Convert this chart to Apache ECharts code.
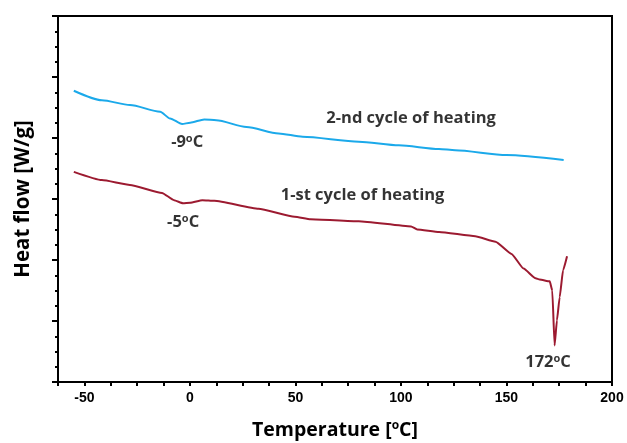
<!DOCTYPE html>
<html>
<head>
<meta charset="utf-8">
<script src="https://cdn.jsdelivr.net/npm/echarts@6/dist/echarts.min.js"></script>
<style>
html,body{margin:0;padding:0;background:#fff;}
#chart{width:627px;height:443px;}
</style>
</head>
<body>
<div id="chart"></div>
<script>
// 2-nd cycle of heating (blue)
var tempSecond = [-55, -41.7, -28.4, -14.1, -9.4, -3.7, 0.1, 6.8, 12.5, 26.8, 42, 53.4, 80, 99, 118, 125.7, 150, 177.1];
var heatSecond = [4.775, 4.62, 4.54, 4.43, 4.32, 4.23, 4.25, 4.305, 4.29, 4.18, 4.075, 4.02, 3.94, 3.88, 3.82, 3.80, 3.72, 3.64];
// 1-st cycle of heating (dark red)
var tempFirst = [-55, -41.7, -28.4, -13.2, -7.5, -3.3, 0.1, 5.9, 11.6, 32.5, 49.6, 57.2, 80, 104.8, 107.7, 118.1, 135.2, 144.8, 152.4, 158.1, 163.8, 165.7, 170.5, 171.7, 172.8, 173.9, 175.2, 176.8, 178.7];
var heatFirst = [3.445, 3.31, 3.23, 3.10, 2.98, 2.93, 2.94, 2.98, 2.97, 2.84, 2.71, 2.67, 2.635, 2.55, 2.50, 2.46, 2.39, 2.30, 2.10, 1.86, 1.70, 1.68, 1.65, 1.50, 0.60, 1.01, 1.39, 1.83, 2.06];
// x tick labels
var xTickLabels = [-50, 0, 50, 100, 150, 200];
// annotations
var annotText = ['2-nd cycle of heating', '-9{s|o}C', '1-st cycle of heating', '-5{s|o}C', '172{s|o}C'];
var annotX = [104.8, -1.3, 81.8, -3.2, 169.7];
var annotY = [4.32, 3.93, 3.06, 2.62, 0.32];

function pairs(xs, ys){ return xs.map(function(x,i){ return [x, ys[i]]; }); }

var chart = echarts.init(document.getElementById('chart'), null, {renderer:'canvas'});
var annData = annotX.map(function(x,i){ return {value:[x, annotY[i]], name: annotText[i]}; });

chart.setOption({
  animation: false,
  backgroundColor: '#fff',
  grid: {left: 58, top: 16, right: 15, bottom: 61, show: true, borderColor: '#000', borderWidth: 2,
    containLabel: false, outerBoundsMode: 'none'},
  xAxis: {
    type: 'value', min: -62.5, max: 200, interval: 12.5,
    name: 'Temperature [{s|o}C]', nameLocation: 'middle', nameGap: 38, nameMoveOverlap: false,
    nameTextStyle: {fontFamily: 'Open Sans', fontWeight: 'bold', fontSize: 19.5, color: '#000',
      rich: {s: {fontFamily: 'Open Sans', fontWeight: 'bold', fontSize: 12, color: '#000', verticalAlign: 'top', padding: [0,0,8,0]}}},
    axisLine: {show: true, onZero: false, lineStyle: {color: '#000', width: 2}},
    axisTick: {show: true, inside: false, length: 4, lineStyle: {color: '#000', width: 2}},
    axisLabel: {margin: 9, fontFamily: 'Liberation Sans', fontWeight: 'bold', fontSize: 14, color: '#000',
      showMinLabel: true, showMaxLabel: true,
      formatter: function(v){ return xTickLabels.indexOf(v) >= 0 ? String(v) : ''; }},
    splitLine: {show: false}
  },
  yAxis: {
    type: 'value', min: 0, max: 6, interval: 1,
    name: 'Heat flow [W/g]', nameLocation: 'middle', nameGap: 24, nameRotate: 90, nameMoveOverlap: false,
    nameTextStyle: {fontFamily: 'Open Sans', fontWeight: 'bold', fontSize: 20.5, color: '#000'},
    axisLine: {show: true, onZero: false, lineStyle: {color: '#000', width: 2}},
    axisTick: {show: true, inside: false, length: 6, lineStyle: {color: '#000', width: 2}},
    minorTick: {show: true, splitNumber: 4, length: 3, lineStyle: {color: '#000', width: 2}},
    axisLabel: {show: false},
    splitLine: {show: false}
  },
  series: [
    {type: 'line', data: pairs(tempSecond, heatSecond), showSymbol: false, smooth: 0.25, smoothMonotone: 'x',
      lineStyle: {color: '#1BA9EA', width: 2}},
    {type: 'line', data: pairs(tempFirst, heatFirst), showSymbol: false, smooth: 0.15, smoothMonotone: 'x',
      lineStyle: {color: '#9C1A30', width: 2}},
    {type: 'scatter', data: annData, symbolSize: 0, silent: true,
      label: {show: true, position: 'inside', formatter: function(p){ return p.name; },
        fontFamily: 'Open Sans', fontWeight: 'bold', fontSize: 16.5, color: '#000',
        rich: {s: {fontFamily: 'Open Sans', fontWeight: 'bold', fontSize: 11, color: '#000', verticalAlign: 'top', padding: [0,0,7,0]}}}}
  ]
});
</script>
</body>
</html>
